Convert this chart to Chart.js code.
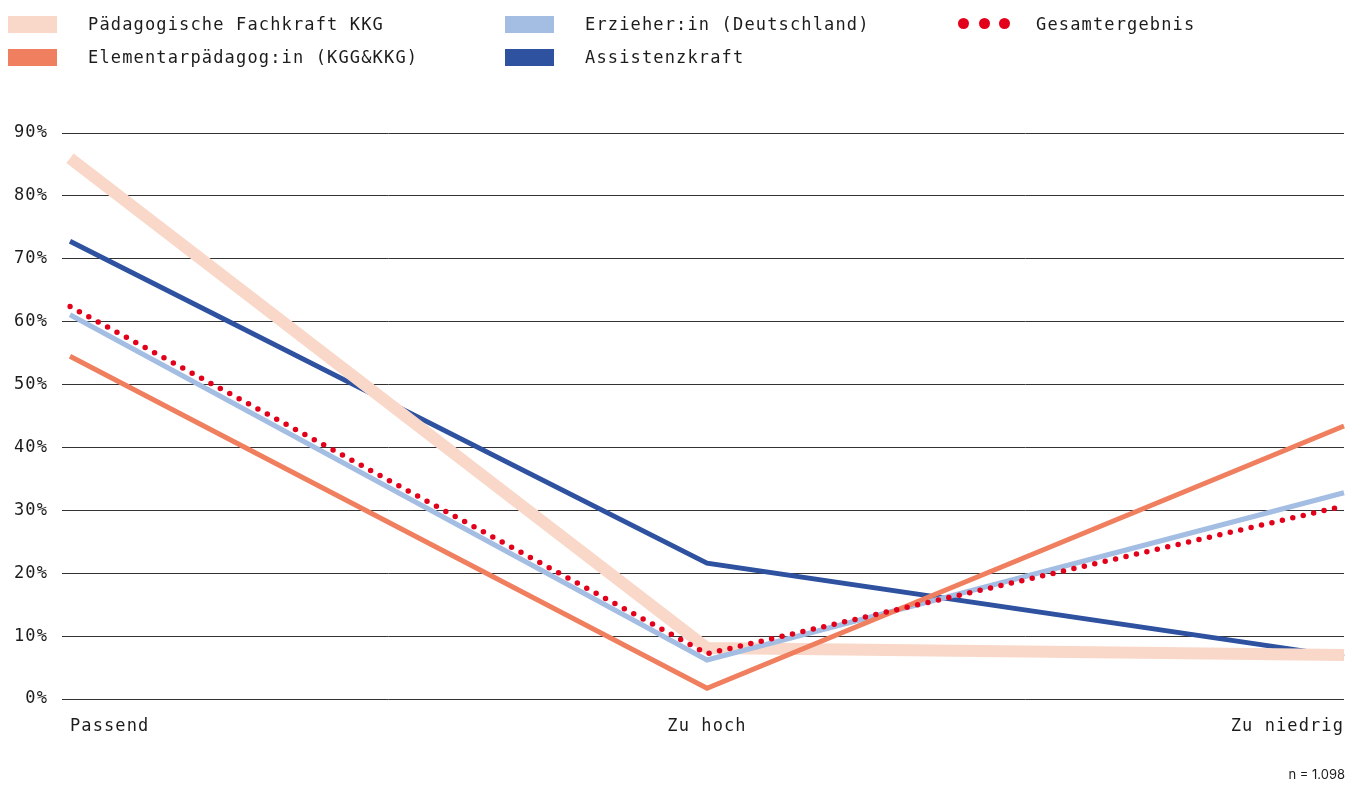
<!DOCTYPE html>
<html lang="de">
<head>
<meta charset="utf-8">
<title>Einschätzung der Vergütung</title>
<script src="https://cdn.jsdelivr.net/npm/chart.js@4/dist/chart.umd.min.js"></script>
<style>
  html, body { margin: 0; padding: 0; background: #ffffff; }
  #wrap { position: relative; width: 1348px; height: 785px; overflow: hidden; }
  #chart { position: absolute; left: 0; top: 0; width: 1361px; height: 785px; }
  .legend-item { position: absolute; display: flex; align-items: center; height: 20px;
    font-family: "DejaVu Sans Mono", monospace; font-size: 17px; letter-spacing: 1.15px; color: #1c1c1c; white-space: nowrap; }
  .legend-item .swatch { position: absolute; left: 0; top: 1.5px; width: 49px; height: 17px; }
  .legend-item .dots { position: absolute; left: 0; top: 4px; width: 52px; height: 12px; display: flex; justify-content: space-between; }
  .legend-item .dots span { width: 11px; height: 11px; border-radius: 50%; display: block; }
  .legend-item .label { position: absolute; left: 80px; top: 0; line-height: 20px; }
  #note { position: absolute; right: 3px; top: 766px; font-family: Inter, "Noto Sans", sans-serif; font-size: 13px; color: #1c1c1c; }
</style>
</head>
<body>
<div id="wrap">
  <canvas id="chart" width="1361" height="785"></canvas>
  <div id="legend"></div>
  <div id="note">n = 1.098</div>
</div>
<script>
// Antwortkategorien (x-Achse)
const categories = ['Passend', 'Zu hoch', 'Zu niedrig'];

// Anteile je Berufsgruppe in Prozent
const fachkraftKKG   = [86.0, 8.1, 7.0];
const elementarpaed  = [54.5, 1.7, 43.4];
const erzieherDE     = [61.1, 6.2, 32.8];
const assistenzkraft = [72.8, 21.6, 6.7];
const gesamt         = [62.4, 7.2, 30.7];

// Beschriftungen der Reihen
const seriesLabels = [
  'Pädagogische Fachkraft KKG',
  'Elementarpädagog:in (KGG&KKG)',
  'Erzieher:in (Deutschland)',
  'Assistenzkraft',
  'Gesamtergebnis'
];

// y-Achse: Prozentwerte
const yTicks = [0, 10, 20, 30, 40, 50, 60, 70, 80, 90];
const yTickLabels = yTicks.map(v => v + '%');

const colors = {
  fachkraft: '#f9d8c9',
  elementar: '#ef7f5e',
  erzieher:  '#a3bde3',
  assistenz: '#2e51a0',
  gesamt:    '#e3001b'
};

const datasets = [
  { label: seriesLabels[0], data: fachkraftKKG, borderColor: colors.fachkraft, borderWidth: 12, order: 3 },
  { label: seriesLabels[1], data: elementarpaed, borderColor: colors.elementar, borderWidth: 5, order: 1 },
  { label: seriesLabels[2], data: erzieherDE, borderColor: colors.erzieher, borderWidth: 5, order: 2 },
  { label: seriesLabels[3], data: assistenzkraft, borderColor: colors.assistenz, borderWidth: 5, order: 4 },
  { label: seriesLabels[4], data: gesamt, borderColor: colors.gesamt, borderWidth: 5.5,
    borderDash: [0, 10.7], borderCapStyle: 'round', order: 0 }
].map(d => Object.assign({ pointRadius: 0, pointHoverRadius: 0, tension: 0, fill: false,
  backgroundColor: d.borderColor }, d));

// Legende in drei Spalten
const legendSlots = [
  { x: 8,   y: 14 }, { x: 8,   y: 47 },
  { x: 505, y: 14 }, { x: 505, y: 47 },
  { x: 958, y: 14 }
];
const legendEl = document.getElementById('legend');
datasets.forEach((d, i) => {
  const item = document.createElement('div');
  item.className = 'legend-item';
  item.style.left = legendSlots[i].x + 'px';
  item.style.top = legendSlots[i].y + 'px';
  let mark;
  if (d.borderDash) {
    const dot = '<span style="background:' + d.borderColor + '"></span>';
    mark = '<div class="dots">' + dot.repeat(3) + '</div>';
  } else {
    mark = '<div class="swatch" style="background:' + d.borderColor + '"></div>';
  }
  const labelLeft = d.borderDash ? 78 : 80;
  item.innerHTML = mark + '<div class="label" style="left:' + labelLeft + 'px"></div>';
  item.querySelector('.label').textContent = d.label;
  legendEl.appendChild(item);
});

const tickFont = { family: 'DejaVu Sans Mono', size: 17 };

// Buchstabenabstand für die Achsenbeschriftung
const spacingPlugin = {
  id: 'letterSpacing',
  beforeDraw(chart) { chart.ctx.letterSpacing = '1.1px'; }
};

new Chart(document.getElementById('chart'), {
  type: 'line',
  data: { labels: categories, datasets },
  options: {
    responsive: false,
    maintainAspectRatio: false,
    animation: false,
    events: [],
    layout: { padding: { top: 133, left: 0, right: 4, bottom: 46 } },
    plugins: { legend: { display: false }, tooltip: { enabled: false } },
    scales: {
      x: {
        type: 'category',
        offset: false,
        grid: { display: false, drawTicks: false },
        border: { display: false },
        ticks: { font: tickFont, color: '#1c1c1c', padding: 17, align: 'inner', maxRotation: 0 },
        afterFit(scale) { scale.height = 40; }
      },
      y: {
        min: 0, max: 90,
        grid: { color: '#333333', lineWidth: 1, drawTicks: true, tickLength: 8 },
        border: { display: false },
        ticks: {
          stepSize: 10, font: tickFont, color: '#1c1c1c', padding: 14,
          callback: (v) => yTickLabels[yTicks.indexOf(v)]
        },
        afterFit(scale) { scale.width = 70; }
      }
    }
  },
  plugins: [spacingPlugin]
});
</script>
</body>
</html>
